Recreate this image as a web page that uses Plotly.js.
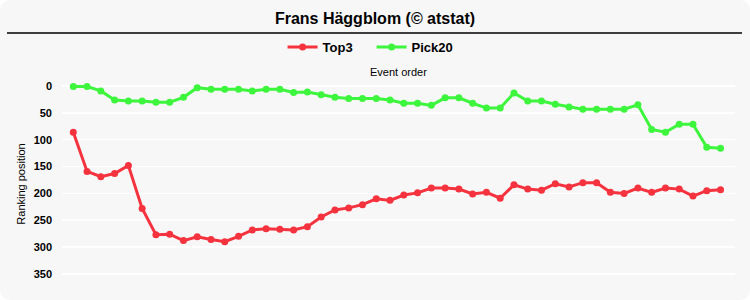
<!DOCTYPE html>
<html>
<head>
<meta charset="utf-8">
<script src="https://cdn.plot.ly/plotly-3.0.1.min.js"></script>
<style>
html,body{margin:0;padding:0;background:#ffffff;}
#chart{width:750px;height:300px;background:#f7f7f7;border-radius:10px;overflow:hidden;}
</style>
</head>
<body>
<div id="chart"></div>
<script>
const titleText = "Frans Häggblom (© atstat)";
const seriesNames = ["Top3", "Pick20"];
const eventIndex = Array.from({length: 48}, (_, i) => i + 1);
const top3 = [86,159,169,163,148,228,277,276,288,281,
              286,290,280,268,266,267,268,262,244,231,
              227,221,210,213,203,199,190,190,192,201,
              198,209,184,192,194,182,188,180,180,198,
              200,190,198,190,192,205,195,193];
const pick20 = [1,1,9,26,28,28,30,30,21,3,
                6,6,6,9,6,6,12,11,16,21,
                23,23,23,26,32,32,36,22,22,32,
                41,41,13,28,28,34,39,43,43,43,
                43,35,81,86,71,71,114,116];
const yTicks = [0,50,100,150,200,250,300,350];

const font = "Liberation Sans, Arial, sans-serif";
const traces = [
  {x: eventIndex, y: top3, name: seriesNames[0], type: 'scatter', mode: 'lines+markers',
   line: {color: '#f5333f', width: 3}, marker: {color: '#f5333f', size: 7}},
  {x: eventIndex, y: pick20, name: seriesNames[1], type: 'scatter', mode: 'lines+markers',
   line: {color: '#3ef53e', width: 3}, marker: {color: '#3ef53e', size: 7}}
];
const layout = {
  width: 750, height: 300,
  paper_bgcolor: 'rgba(0,0,0,0)', plot_bgcolor: 'rgba(0,0,0,0)',
  margin: {l: 62, r: 15, t: 78, b: 10, autoexpand: false},
  font: {family: font, color: '#000'},
  title: {text: '<b>' + titleText + '</b>', x: 0.5, xref: 'container', y: 0.94, yref: 'container',
          yanchor: 'middle', font: {size: 16, family: font, color: '#000'}},
  showlegend: true,
  legend: {orientation: 'h', x: 0.46, xanchor: 'center', y: 1.146, yanchor: 'middle',
           font: {size: 13, family: font, weight: 'bold'}, itemwidth: 30, entrywidth: 44,
           bgcolor: 'rgba(0,0,0,0)'},
  xaxis: {range: [0.18, 49.05], showgrid: false, zeroline: false, showticklabels: false, ticks: '',
          showline: false, fixedrange: true},
  yaxis: {range: [380, -15], tickvals: yTicks, showgrid: true, gridcolor: '#ffffff', gridwidth: 1.5,
          zeroline: false, showline: false, ticks: '', ticklabelstandoff: 9,
          tickfont: {size: 11, family: font, weight: 'bold', color: '#000'},
          title: {text: 'Ranking position', font: {size: 11, family: font}, standoff: 5}},
  shapes: [{type: 'line', xref: 'paper', yref: 'paper', x0: -0.0817, x1: 1.0104, y0: 1.2123, y1: 1.2123,
            line: {color: '#000', width: 1.5}}],
  annotations: [{text: 'Event order', xref: 'paper', yref: 'paper', x: 0.5, y: 1.028, yanchor: 'middle',
                 showarrow: false, font: {size: 11, family: font, color: '#000'}}]
};
Plotly.newPlot('chart', traces, layout, {displayModeBar: false, staticPlot: true});
</script>
</body>
</html>
